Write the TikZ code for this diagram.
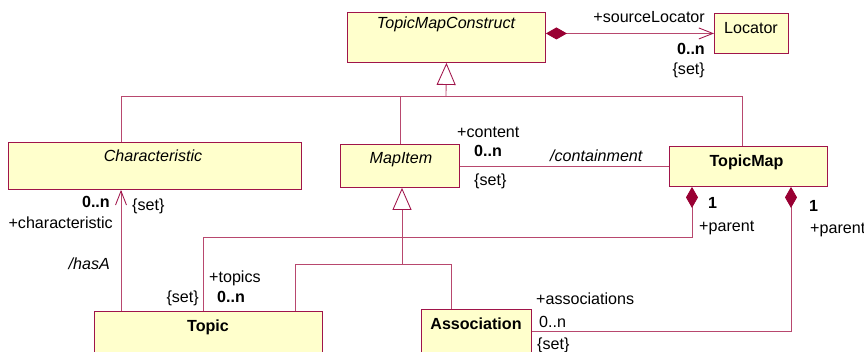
\documentclass[tikz,border=0pt]{standalone}
\usepackage{fontspec}
\setmainfont{Liberation Sans}
\usetikzlibrary{arrows.meta}

\definecolor{umlborder}{HTML}{A0144A}
\definecolor{umlline}{HTML}{B8486E}
\definecolor{umlfill}{HTML}{FFFFCC}
\definecolor{umldiamond}{HTML}{990033}

\tikzset{
  classbox/.style={draw=umlborder, fill=umlfill, line width=0.9pt, inner sep=0pt, anchor=north west},
  link/.style={draw=umlline, line width=0.85pt},
  txt/.style={inner sep=0pt, font=\fontsize{16.1}{18}\selectfont},
  comptip/.tip={Diamond[length=21pt, width=12pt, color=umldiamond, fill=umldiamond]},
  gentip/.tip={Triangle[open, length=22pt, width=19pt, color=umlborder, fill=white]},
  navtip/.tip={Straight Barb[length=14pt, width=11pt, color=umlborder]},
}

\begin{document}
\begin{tikzpicture}[x=1pt, y=-1pt]
  \clip (0,0) rectangle (864,352);

  % classes
  \node[classbox, minimum width=198pt, minimum height=50pt] (tmc) at (347,12) {};
  \node[classbox, minimum width=74pt, minimum height=40pt] (loc) at (714,13) {};
  \node[classbox, minimum width=293pt, minimum height=47pt] (char) at (8,142) {};
  \node[classbox, minimum width=119pt, minimum height=43pt] (mi) at (340,144) {};
  \node[classbox, minimum width=158pt, minimum height=40pt] (tm) at (669,146) {};
  \node[classbox, minimum width=228pt, minimum height=60pt] (topic) at (94,311) {};
  \node[classbox, minimum width=110pt, minimum height=62pt] (assoc) at (421,309) {};

  % class names
  \node[txt, anchor=base] (tmcname) at (446,29) {\itshape TopicMapConstruct};
  \node[txt, anchor=base] (locname) at (751,33.5) {Locator};
  \node[txt, anchor=base] (charname) at (153,162) {\itshape Characteristic};
  \node[txt, anchor=base] (miname) at (401,164) {\itshape MapItem};
  \node[txt, anchor=base] (tmname) at (746.5,167) {\bfseries TopicMap};
  \node[txt, anchor=base] (topicname) at (208,331) {\bfseries Topic};
  \node[txt, anchor=base] (assocname) at (476,330) {\bfseries Association};

  % bend points
  \coordinate (busL) at (121,96);
  \coordinate (busR) at (742,96);
  \coordinate (g1) at (446,96);
  \coordinate (g2) at (402,264);
  \coordinate (g2L) at (295,264);
  \coordinate (g2R) at (451,264);
  \coordinate (p1) at (692,237);
  \coordinate (tx) at (203,237);
  \coordinate (p2) at (791,331);

  % sourceLocator
  \draw[link, comptip-navtip] (tmc.east |- loc.west) -- (loc.west);

  % generalisation to TopicMapConstruct
  \draw[link, -gentip] (g1) -- (tmc.south);
  \draw[link] (char.north -| busL) -- (busL) -- (busR) -- (tm.north -| busR);
  \draw[link] (mi.north) -- (mi.north |- busL);

  % containment
  \draw[link] (mi.east) -- (mi.east -| tm.west);

  % generalisation to MapItem
  \draw[link, -gentip] (g2) -- (mi.south -| g2);
  \draw[link] (topic.north -| g2L) -- (g2L) -- (g2R) -- (assoc.north -| g2R);

  % hasA
  \draw[link, -navtip] (topic.north -| busL) -- (char.south -| busL);

  % parent compositions
  \draw[link, comptip-] (tm.south -| p1) -- (p1) -- (tx) -- (topic.north -| tx);
  \draw[link, comptip-] (tm.south -| p2) -- (p2) -- (p2 -| assoc.east);

  % role names and multiplicities
  \node[txt, anchor=base east] (srcrole) at (705,23) {+sourceLocator};
  \node[txt, anchor=base east] (srcmult) at (705,55) {\bfseries 0..n};
  \node[txt, anchor=base east] (srcset) at (705,75) {\{set\}};

  \node[txt, anchor=base west] (conrole) at (457,138) {+content};
  \node[txt, anchor=base west] (conmult) at (474,157) {\bfseries 0..n};
  \node[txt, anchor=base west] (conname) at (550,162) {\itshape /containment};
  \node[txt, anchor=base west] (conset) at (474,186) {\{set\}};

  \node[txt, anchor=base west] (par1mult) at (708,209) {\bfseries 1};
  \node[txt, anchor=base west] (par1role) at (699,232) {+parent};
  \node[txt, anchor=base west] (par2mult) at (809,212) {\bfseries 1};
  \node[txt, anchor=base west] (par2role) at (810,234) {+parent};

  \node[txt, anchor=base east] (chmult) at (110,208) {\bfseries 0..n};
  \node[txt, anchor=base west] (chset) at (132,211) {\{set\}};
  \node[txt, anchor=base east] (chrole) at (113,229) {+characteristic};
  \node[txt, anchor=base east] (hasa) at (110,270) {\itshape /hasA};

  \node[txt, anchor=base west] (toprole) at (209,283) {+topics};
  \node[txt, anchor=base east] (topset) at (199,302) {\{set\}};
  \node[txt, anchor=base west] (topmult) at (217,303) {\bfseries 0..n};

  \node[txt, anchor=base west] (asrole) at (536,305) {+associations};
  \node[txt, anchor=base west] (asmult) at (539,327) {0..n};
  \node[txt, anchor=base west] (asset) at (537,349) {\{set\}};
\end{tikzpicture}
\end{document}
